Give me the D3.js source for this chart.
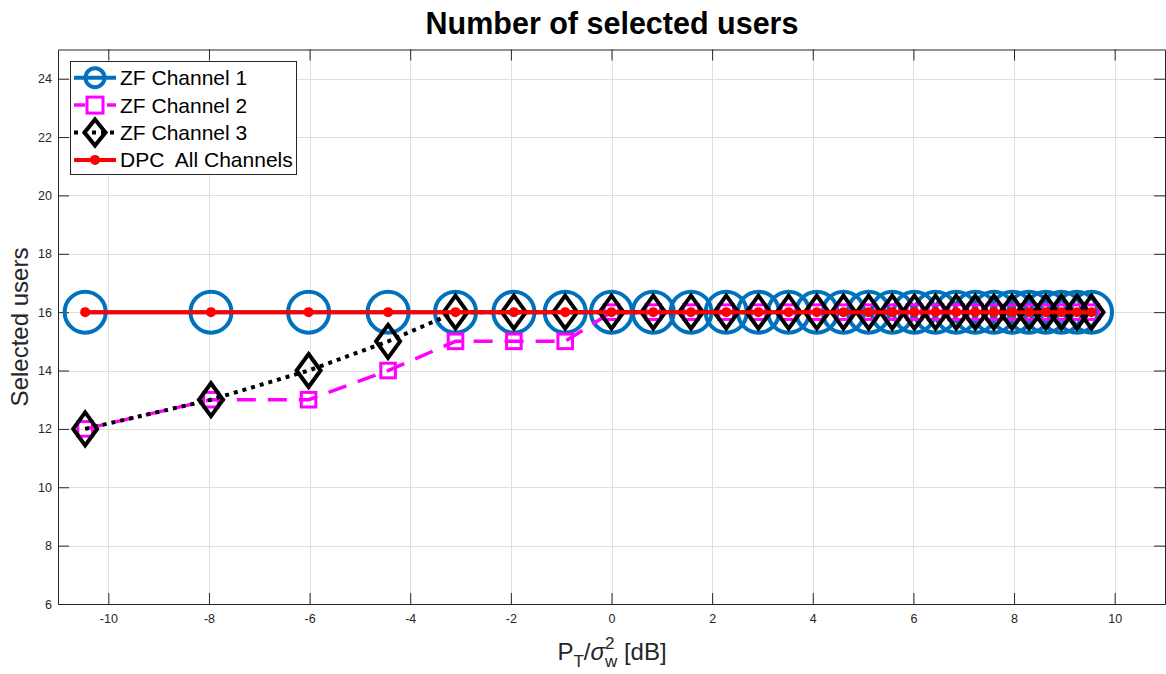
<!DOCTYPE html>
<html>
<head>
<meta charset="utf-8">
<script src="https://cdn.jsdelivr.net/npm/d3@7"></script>
<style>
  html, body { margin: 0; padding: 0; background: #fff; }
  svg { display: block; font-family: "Liberation Sans", Arial, Helvetica, sans-serif; }
</style>
</head>
<body>
<svg id="chart" width="1166" height="674"></svg>
<script>
// Transmit SNR points (dB)
const snrDb = [-10.46, -7.96, -6.02, -4.44, -3.10, -1.94, -0.92, 0.00, 0.83, 1.58,
               2.28, 2.92, 3.52, 4.08, 4.61, 5.11, 5.58, 6.02, 6.44, 6.85,
               7.23, 7.60, 7.96, 8.30, 8.63, 8.94, 9.25, 9.54];

// Number of selected users per scheme
const zfChannel1 = [16, 16, 16, 16, 16, 16, 16, 16, 16, 16, 16, 16, 16, 16,
                    16, 16, 16, 16, 16, 16, 16, 16, 16, 16, 16, 16, 16, 16];
const zfChannel2 = [12, 13, 13, 14, 15, 15, 15, 16, 16, 16, 16, 16, 16, 16,
                    16, 16, 16, 16, 16, 16, 16, 16, 16, 16, 16, 16, 16, 16];
const zfChannel3 = [12, 13, 14, 15, 16, 16, 16, 16, 16, 16, 16, 16, 16, 16,
                    16, 16, 16, 16, 16, 16, 16, 16, 16, 16, 16, 16, 16, 16];
const dpcAllChannels = [16, 16, 16, 16, 16, 16, 16, 16, 16, 16, 16, 16, 16, 16,
                        16, 16, 16, 16, 16, 16, 16, 16, 16, 16, 16, 16, 16, 16];

const seriesNames = ["ZF Channel 1", "ZF Channel 2", "ZF Channel 3", "DPC  All Channels"];

// Axis ticks
const xTicks = [-10, -8, -6, -4, -2, 0, 2, 4, 6, 8, 10];
const yTicks = [6, 8, 10, 12, 14, 16, 18, 20, 22, 24];
const xDomain = [-11, 11];
const yDomain = [6, 25];

const svg = d3.select("#chart");
const axColor = "#262626";

const plotLeft = 58, plotRight = 1165, plotTop = 49.5, plotBottom = 604;
const x = d3.scaleLinear(xDomain, [plotLeft, plotRight]);
const y = d3.scaleLinear(yDomain, [plotBottom, plotTop]);
const plainNumber = d => String(d);

// Grid
const grid = svg.append("g").attr("stroke", "#dfdfdf").attr("stroke-width", 1);
grid.selectAll("line.gx").data(xTicks).join("line")
  .attr("x1", d => Math.round(x(d)) + 0.5).attr("x2", d => Math.round(x(d)) + 0.5)
  .attr("y1", plotTop).attr("y2", plotBottom);
grid.selectAll("line.gy").data(yTicks).join("line")
  .attr("y1", d => Math.round(y(d)) + 0.5).attr("y2", d => Math.round(y(d)) + 0.5)
  .attr("x1", plotLeft).attr("x2", plotRight);

// Axes (ticks point inward, box on)
function styleAxis(g) {
  g.select(".domain").attr("stroke", axColor).attr("stroke-width", 1);
  g.selectAll(".tick line").attr("stroke", axColor).attr("stroke-width", 1);
  g.selectAll(".tick text").attr("fill", axColor).attr("font-size", 12.5)
    .attr("font-family", "Liberation Sans, Arial, sans-serif");
}
svg.append("g").attr("transform", `translate(0,${plotBottom})`)
  .call(d3.axisBottom(x).tickValues(xTicks).tickSize(-11).tickSizeOuter(0).tickPadding(10).tickFormat(plainNumber))
  .call(styleAxis);
svg.append("g").attr("transform", `translate(0,${plotTop})`)
  .call(d3.axisTop(x).tickValues(xTicks).tickSize(-11).tickSizeOuter(0).tickFormat(""))
  .call(styleAxis);
svg.append("g").attr("transform", `translate(${plotLeft},0)`)
  .call(d3.axisLeft(y).tickValues(yTicks).tickSize(-11).tickSizeOuter(0).tickPadding(6).tickFormat(plainNumber))
  .call(styleAxis);
svg.append("g").attr("transform", `translate(${plotRight},0)`)
  .call(d3.axisRight(y).tickValues(yTicks).tickSize(-11).tickSizeOuter(0).tickFormat(""))
  .call(styleAxis);

// Marker shapes
const diamondPath = (hw, hh) => `M0,${-hh}L${hw},0L0,${hh}L${-hw},0Z`;

const plot = svg.append("g");
const pts = vals => vals.map((v, i) => [snrDb[i], v]);
const line = d3.line().x(d => x(d[0])).y(d => y(d[1]));

// ZF Channel 1
plot.append("path").datum(pts(zfChannel1)).attr("d", line)
  .attr("fill", "none").attr("stroke", "#0072BD").attr("stroke-width", 4);
plot.append("g").selectAll("circle").data(pts(zfChannel1)).join("circle")
  .attr("cx", d => x(d[0])).attr("cy", d => y(d[1])).attr("r", 20.5)
  .attr("fill", "none").attr("stroke", "#0072BD").attr("stroke-width", 4);

// ZF Channel 2
plot.append("path").datum(pts(zfChannel2)).attr("d", line)
  .attr("fill", "none").attr("stroke", "#FF00FF").attr("stroke-width", 3.5)
  .attr("stroke-dasharray", "19,12");
plot.append("g").selectAll("rect").data(pts(zfChannel2)).join("rect")
  .attr("x", d => x(d[0]) - 7.3).attr("y", d => y(d[1]) - 7.3)
  .attr("width", 14.6).attr("height", 14.6)
  .attr("fill", "none").attr("stroke", "#FF00FF").attr("stroke-width", 3);

// ZF Channel 3
plot.append("path").datum(pts(zfChannel3)).attr("d", line)
  .attr("fill", "none").attr("stroke", "#000").attr("stroke-width", 4)
  .attr("stroke-dasharray", "4,5");
plot.append("g").selectAll("path").data(pts(zfChannel3)).join("path")
  .attr("transform", d => `translate(${x(d[0])},${y(d[1])})`)
  .attr("d", diamondPath(12, 16.5))
  .attr("fill", "none").attr("stroke", "#000").attr("stroke-width", 4);

// DPC All Channels
plot.append("path").datum(pts(dpcAllChannels)).attr("d", line)
  .attr("fill", "none").attr("stroke", "#FF0000").attr("stroke-width", 4);
plot.append("g").selectAll("circle").data(pts(dpcAllChannels)).join("circle")
  .attr("cx", d => x(d[0])).attr("cy", d => y(d[1])).attr("r", 5)
  .attr("fill", "#FF0000");

// Title and axis labels
svg.append("text").attr("x", 612).attr("y", 34).attr("text-anchor", "middle")
  .attr("font-size", 30.5).attr("font-weight", "bold").attr("fill", "#000")
  .text("Number of selected users");

svg.append("text").attr("transform", "translate(28,327) rotate(-90)")
  .attr("text-anchor", "middle").attr("font-size", 24).attr("fill", axColor)
  .text("Selected users");

const xl = svg.append("text").attr("x", 612).attr("y", 660).attr("text-anchor", "middle")
  .attr("font-size", 24).attr("fill", axColor);
xl.append("tspan").text("P");
xl.append("tspan").attr("font-size", 17).attr("dy", 7).text("T");
xl.append("tspan").attr("dy", -7).text("/");
xl.append("tspan").attr("font-style", "italic").text("σ");
xl.append("tspan").attr("font-size", 17).attr("dy", 7).text("w");
xl.append("tspan").attr("font-size", 17).attr("dy", -18).attr("dx", -12.3).text("2");
xl.append("tspan").attr("dy", 11).attr("dx", 2.8).text(" [dB]");

// Legend
const lg = svg.append("g");
lg.append("rect").attr("x", 70.5).attr("y", 61.5).attr("width", 226).attr("height", 113)
  .attr("fill", "#fff").attr("stroke", axColor).attr("stroke-width", 1);
const legendItems = [
  { name: seriesNames[0], color: "#0072BD", w: 4, dash: null, marker: "circle" },
  { name: seriesNames[1], color: "#FF00FF", w: 3.5, dash: "11,22", marker: "square" },
  { name: seriesNames[2], color: "#000", w: 4, dash: "4,5", marker: "diamond" },
  { name: seriesNames[3], color: "#FF0000", w: 4, dash: null, marker: "dot" }
];
legendItems.forEach((it, i) => {
  const ry = 77.7 + i * 27.4;
  const g = lg.append("g");
  g.append("line").attr("x1", 74).attr("x2", 116).attr("y1", ry).attr("y2", ry)
    .attr("stroke", it.color).attr("stroke-width", it.w)
    .attr("stroke-dasharray", it.dash);
  if (it.marker === "circle") {
    g.append("circle").attr("cx", 95).attr("cy", ry).attr("r", 9.5)
      .attr("fill", "none").attr("stroke", it.color).attr("stroke-width", 4);
  } else if (it.marker === "square") {
    g.append("rect").attr("x", 95 - 8).attr("y", ry - 8).attr("width", 16).attr("height", 16)
      .attr("fill", "none").attr("stroke", it.color).attr("stroke-width", 3);
  } else if (it.marker === "diamond") {
    g.append("path").attr("transform", `translate(95,${ry})`).attr("d", diamondPath(10.5, 13))
      .attr("fill", "none").attr("stroke", it.color).attr("stroke-width", 4);
  } else {
    g.append("circle").attr("cx", 95).attr("cy", ry).attr("r", 5).attr("fill", it.color);
  }
  g.append("text").attr("x", 120).attr("y", ry + 7.5).attr("font-size", 21)
    .attr("fill", "#000").style("white-space", "pre")
    .text(it.name);
});
</script>
</body>
</html>
